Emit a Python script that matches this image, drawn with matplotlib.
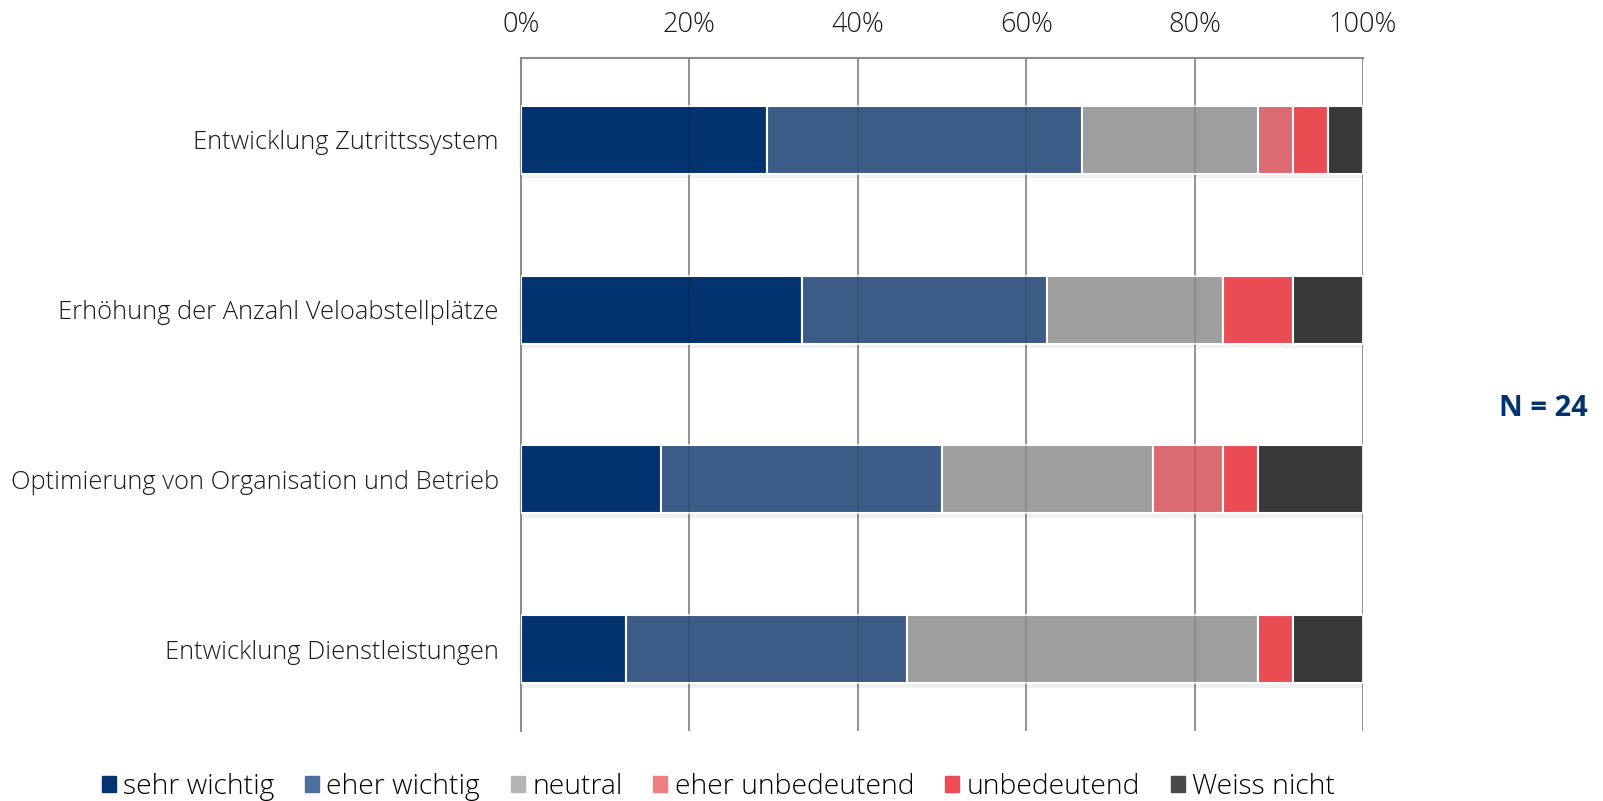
import matplotlib
matplotlib.use("Agg")
import matplotlib.pyplot as plt
import matplotlib.patheffects as pe
import numpy as np

plt.rcParams['font.family'] = ['Open Sans', 'DejaVu Sans']

categories = ["Entwicklung Zutrittssystem",
              "Erhöhung der Anzahl Veloabstellplätze",
              "Optimierung von Organisation und Betrieb",
              "Entwicklung Dienstleistungen"]
series = ["sehr wichtig", "eher wichtig", "neutral",
          "eher unbedeutend", "unbedeutend", "Weiss nicht"]
# Antworten (Anzahl, N = 24)
sehr_wichtig = [7, 8, 4, 3]
eher_wichtig = [9, 7, 8, 8]
neutral = [5, 5, 6, 10]
eher_unbedeutend = [1, 0, 2, 0]
unbedeutend = [1, 2, 1, 1]
weiss_nicht = [1, 2, 3, 2]
n_total = 24

bar_colors = ["#03336e", "#3b5c87", "#9e9e9e", "#db6b70", "#ea4c53", "#383838"]
legend_colors = ["#03336e", "#4d6fa0", "#b5b5b5", "#f08080", "#ee4c55", "#4a4a4a"]

data = np.array([sehr_wichtig, eher_wichtig, neutral,
                 eher_unbedeutend, unbedeutend, weiss_nicht]) / n_total

fig = plt.figure(figsize=(16.03, 8.01), dpi=100)
ax = fig.add_axes([521/1603, 1 - 731/801, (1363-521)/1603, (731-58)/801])

y = np.arange(len(categories))
left = np.zeros(len(categories))
shadow = [pe.SimplePatchShadow(offset=(1, -3), shadow_rgbFace="#000000", alpha=0.06), pe.Normal()]
for i, name in enumerate(series):
    vals = data[i]
    ax.barh(y, vals, left=left, height=0.4, color=bar_colors[i],
            edgecolor="white", linewidth=1.5, zorder=3, path_effects=shadow)
    left += vals

ticks = np.linspace(0, 1, 6)
ax.set_xlim(0, 1)
ax.set_ylim(3.48, -0.48)
ax.set_yticks(y)
ax.set_yticklabels(categories, fontsize=18.4, color="#1a1a1a", fontweight="light")
ax.xaxis.tick_top()
ax.set_xticks(ticks)
ax.set_xticklabels([f"{int(v*100)}%" for v in ticks],
                   fontsize=19.5, color="#1a1a1a", fontweight="light")
ax.tick_params(axis="x", length=0, pad=14)
ax.tick_params(axis="y", length=0, pad=16)
ax.xaxis.grid(True, color="#9f9f9f", linewidth=1.3, zorder=2)
# faint grid lines showing through the bars
ax.vlines(ticks[1:], -0.48, 3.48, color="black", alpha=0.12, linewidth=1.3, zorder=4)
for s in ["right", "bottom"]:
    ax.spines[s].set_visible(False)
for s in ["top", "left"]:
    ax.spines[s].set_color("#8c8c8c")
    ax.spines[s].set_linewidth(1.5)

handles = [plt.Rectangle((0, 0), 1, 1, color=c) for c in legend_colors]
fig.legend(handles, series, loc="center", bbox_to_anchor=(0.448, 1 - 787/801),
           ncol=6, frameon=False, handlelength=0.5, handleheight=0.5,
           handletextpad=0.25, columnspacing=1.1,
           prop={"size": 20.3, "weight": "light"})

fig.text(1588/1603, 1 - 409/801, "N = 24", ha="right", va="center",
         fontsize=21, fontweight="bold", color="#03336e")

fig.savefig("out.png", dpi=100, facecolor="white")
